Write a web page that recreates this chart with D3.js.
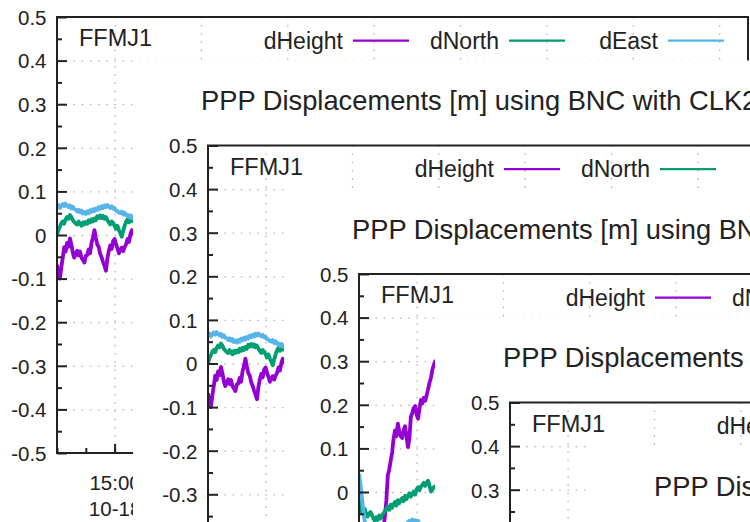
<!DOCTYPE html>
<html><head><meta charset="utf-8">
<script src="https://cdn.jsdelivr.net/npm/d3@7"></script>
<style>html,body{margin:0;padding:0;background:#fff;overflow:hidden}svg{display:block}</style>
</head><body>
<svg id="c" width="750" height="522"></svg>
<script>
// ---------- data ----------
const seriesNames = ["dHeight", "dNorth", "dEast"];
const seriesColors = ["#9400d3", "#009e73", "#56b4e9"];
const stationLabel = "FFMJ1";
const titleText = "PPP Displacements [m] using BNC with CLK22";
const xTickLabels = ["15:00", "16:00", "17:00", "18:00", "19:00", "20:00", "21:00", "22:00"];
const xDateLabel = "10-18";
const yTicks = [-0.5, -0.4, -0.3, -0.2, -0.1, 0, 0.1, 0.2, 0.3, 0.4, 0.5];
const yMinorTicks = [-0.45, -0.35, -0.25, -0.15, -0.05, 0.05, 0.15, 0.25, 0.35, 0.45];
const startTime = new Date(2018, 9, 18, 14, 20);
const endTime = new Date(2018, 9, 18, 22, 20);

// newer plot state (1 value per minute from 14:20)
const dHeightA = [-0.068,-0.092,-0.1,-0.074,-0.052,-0.028,-0.038,-0.018,-0.027,-0.008,
  -0.022,-0.041,-0.052,-0.043,-0.036,-0.047,-0.038,-0.052,-0.057,-0.063,
  -0.048,-0.046,-0.033,-0.042,-0.018,-0.006,0.011,-0.007,-0.022,-0.028,
  -0.043,-0.051,-0.062,-0.071,-0.082,-0.054,-0.036,-0.024,-0.032,-0.014,
  -0.009,-0.021,-0.031,-0.042,-0.034,-0.029,-0.037,-0.028,-0.021,-0.009,
  -0.016,0.002,0.011,0.004,-0.002,0.009,0.005];
const dNorthA = [0.0,0.012,0.019,0.027,0.031,0.026,0.036,0.041,0.037,0.046,
  0.041,0.034,0.03,0.026,0.024,0.031,0.025,0.021,0.029,0.024,
  0.03,0.026,0.034,0.029,0.036,0.031,0.038,0.034,0.043,0.039,
  0.045,0.039,0.044,0.037,0.041,0.034,0.029,0.024,0.031,0.027,
  0.021,0.014,0.021,0.011,0.004,-0.004,0.01,0.021,0.031,0.036,
  0.029,0.038,0.032,0.039,0.034,0.041,0.036];
const dEastA = [0.065,0.069,0.062,0.067,0.071,0.066,0.072,0.068,0.064,0.068,
  0.061,0.065,0.059,0.058,0.054,0.058,0.052,0.056,0.049,0.053,
  0.048,0.054,0.05,0.057,0.053,0.059,0.055,0.061,0.057,0.064,
  0.06,0.066,0.062,0.068,0.064,0.069,0.065,0.062,0.066,0.06,
  0.061,0.056,0.055,0.051,0.05,0.054,0.047,0.051,0.045,0.046,
  0.041,0.045,0.039,0.043,0.038,0.042,0.04];

// older plot state
const dHeightB = [-0.14,-0.16,-0.15,-0.17,-0.16,-0.18,-0.17,-0.15,-0.16,-0.14,
  -0.15,-0.13,-0.14,-0.12,-0.13,-0.11,-0.1,-0.085,-0.055,-0.02,
  0.038,0.052,0.071,0.09,0.122,0.141,0.128,0.157,0.138,0.128,
  0.124,0.142,0.151,0.128,0.103,0.122,0.172,0.181,0.193,0.197,
  0.178,0.168,0.191,0.211,0.203,0.216,0.209,0.222,0.236,0.251,
  0.262,0.281,0.292,0.3,0.289,0.302,0.31];
const dNorthB = [-0.018,-0.031,-0.048,-0.043,-0.039,-0.052,-0.056,-0.049,-0.046,-0.053,
  -0.061,-0.066,-0.058,-0.064,-0.054,-0.061,-0.053,-0.049,-0.044,-0.038,
  -0.034,-0.041,-0.029,-0.036,-0.028,-0.023,-0.031,-0.019,-0.026,-0.018,
  -0.014,-0.021,-0.009,-0.016,-0.008,-0.003,-0.011,-0.004,0.001,-0.006,
  0.006,0.011,0.004,0.012,0.016,0.021,0.014,0.022,0.026,0.014,
  0.001,0.006,0.011,0.013,0.007,0.016,0.01];
const dEastB = [0.042,0.018,-0.012,-0.041,-0.068,-0.088,-0.097,-0.104,-0.1,-0.108,
  -0.112,-0.105,-0.11,-0.102,-0.098,-0.104,-0.096,-0.101,-0.094,-0.099,
  -0.092,-0.097,-0.09,-0.094,-0.088,-0.091,-0.085,-0.089,-0.083,-0.086,
  -0.081,-0.084,-0.078,-0.074,-0.069,-0.066,-0.068,-0.063,-0.067,-0.065,
  -0.07,-0.066,-0.074,-0.08,-0.086,-0.083,-0.09,-0.088,-0.094,-0.091,
  -0.097,-0.093,-0.099,-0.096,-0.1,-0.098,-0.102];

const datasets = {
  A: [dHeightA, dNorthA, dEastA],
  B: [dHeightB, dNorthB, dEastB]
};
// nested screenshot copies, outermost first
const copyData = ["A", "A", "B", "A", null];

// ---------- layout ----------
const M = {left: 57, top: 17, right: 748, bottom: 453};
const step = {x: 151, y: 128.5};
const FONT = "'Liberation Sans', Arial, sans-serif";
const INK = "#222";

const svg = d3.select("#c");
svg.append("rect").attr("width", 750).attr("height", 522).attr("fill", "#fff");
svg.append("defs").append("clipPath").attr("id", "plotclip")
  .append("rect").attr("x", M.left).attr("y", M.top)
  .attr("width", M.right - M.left).attr("height", M.bottom - M.top);

const x = d3.scaleTime().domain([startTime, endTime]).range([M.left, M.right]);
const y = d3.scaleLinear().domain([-0.5, 0.5]).range([M.bottom, M.top]);
const majorDates = xTickLabels.map(s => new Date(2018, 9, 18, +s.split(":")[0], 0));
const minorDates = d3.timeMinute.every(20).range(startTime, endTime);
const fmtY = d => String(Math.round(d * 10) / 10);

function styleAxis(sel) {
  sel.attr("font-size", null).attr("font-family", null);
  sel.select(".domain").remove();
}

copyData.forEach((key, k) => {
  const g = svg.append("g").attr("transform", `translate(${k * step.x},${k * step.y})`);
  if (k > 0) {
    g.append("rect").attr("x", -18).attr("y", -68).attr("width", 1400).attr("height", 1200).attr("fill", "#fff");
    g.append("text").attr("x", 50).attr("y", -18.5).attr("font-family", FONT)
      .attr("font-size", 27.3).attr("fill", INK).text(titleText);
  }
  // grid
  const gy = g.append("g").attr("transform", `translate(${M.left},0)`)
    .call(d3.axisLeft(y).tickValues(yTicks.slice(1, -1)).tickSize(-(M.right - M.left)).tickFormat(""));
  styleAxis(gy);
  const gx = g.append("g").attr("transform", `translate(0,${M.bottom})`)
    .call(d3.axisBottom(x).tickValues(majorDates).tickSize(-(M.bottom - M.top)).tickFormat(""));
  styleAxis(gx);
  g.selectAll("g.tick line").attr("stroke", "#b8b8b8").attr("stroke-width", 1.3).attr("stroke-dasharray", "1.6,6.6");

  // data
  if (key) {
    const dl = g.append("g").attr("clip-path", "url(#plotclip)");
    datasets[key].forEach((vals, si) => {
      const line = d3.line().x((v, i) => x(d3.timeMinute.offset(startTime, i))).y(v => y(v));
      dl.append("path").attr("d", line(vals)).attr("fill", "none")
        .attr("stroke", seriesColors[si]).attr("stroke-width", 3.8).attr("stroke-linejoin", "round");
    });
  }

  // axes ticks (inward, gnuplot style)
  const ay = g.append("g").attr("transform", `translate(${M.left},0)`)
    .call(d3.axisLeft(y).tickValues(yTicks).tickSizeInner(-10).tickSizeOuter(0).tickPadding(10.5).tickFormat(fmtY));
  styleAxis(ay);
  ay.selectAll("line").attr("stroke", INK).attr("stroke-width", 2);
  ay.selectAll("text").attr("font-family", FONT).attr("font-size", 20.5).attr("fill", INK).attr("dy", "0.36em");
  const ayMinor = g.append("g").attr("transform", `translate(${M.left},0)`)
    .call(d3.axisLeft(y).tickValues(yMinorTicks).tickSize(-5).tickFormat(""));
  styleAxis(ayMinor);
  ayMinor.selectAll("line").attr("stroke", INK).attr("stroke-width", 2);

  const ax = g.append("g").attr("transform", `translate(0,${M.bottom})`)
    .call(d3.axisBottom(x).tickValues(majorDates).tickSizeInner(-9).tickSizeOuter(0).tickFormat(""));
  styleAxis(ax);
  ax.selectAll("line").attr("stroke", INK).attr("stroke-width", 2);
  ax.selectAll(".tick").each(function(d, i) {
    const t = d3.select(this).append("text").attr("font-family", FONT).attr("font-size", 20.5)
      .attr("fill", INK).attr("text-anchor", "middle");
    t.append("tspan").attr("x", 0).attr("y", 37).text(xTickLabels[i]);
    t.append("tspan").attr("x", 0).attr("y", 63).text(xDateLabel);
  });
  const axMinor = g.append("g").attr("transform", `translate(0,${M.bottom})`)
    .call(d3.axisBottom(x).tickValues(minorDates).tickSize(-5).tickFormat(""));
  styleAxis(axMinor);
  axMinor.selectAll("line").attr("stroke", INK).attr("stroke-width", 2);

  // frame
  g.append("rect").attr("x", M.left).attr("y", M.top).attr("width", M.right - M.left)
    .attr("height", M.bottom - M.top).attr("fill", "none").attr("stroke", INK).attr("stroke-width", 2);

  // station label
  g.append("text").attr("x", 79).attr("y", 46).attr("font-family", FONT).attr("font-size", 23.5)
    .attr("fill", INK).text(stationLabel);

  // legend
  const legX = [343, 499, 658];
  seriesNames.forEach((name, si) => {
    g.append("text").attr("x", legX[si]).attr("y", 48.5).attr("text-anchor", "end")
      .attr("font-family", FONT).attr("font-size", 23).attr("fill", INK).text(name);
    g.append("line").attr("x1", legX[si] + 10).attr("x2", legX[si] + 66)
      .attr("y1", 40.7).attr("y2", 40.7).attr("stroke", seriesColors[si]).attr("stroke-width", 2.2);
  });
});
</script>
</body></html>
